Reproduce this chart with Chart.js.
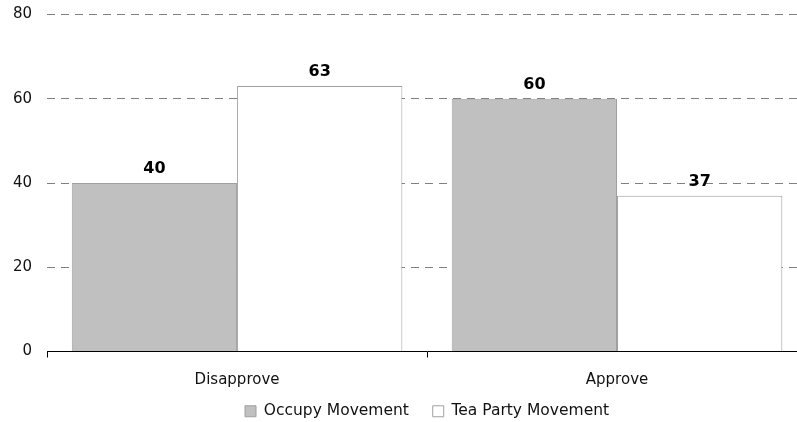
<!DOCTYPE html>
<html>
<head>
<meta charset="utf-8">
<script src="https://cdn.jsdelivr.net/npm/chart.js@4"></script>
<style>
  html, body { margin: 0; padding: 0; background: #fff; }
  #wrap { width: 797px; height: 422px; position: relative; overflow: hidden; }
  #c { position: absolute; left: -2px; top: -8px; }
</style>
</head>
<body>
<div id="wrap"><canvas id="c" width="809" height="437"></canvas></div>
<script>
const categories = ["Disapprove", "Approve"];
const occupyValues = [40, 60];
const teaPartyValues = [63, 37];
const seriesNames = ["Occupy Movement", "Tea Party Movement"];
const yTicks = [0, 20, 40, 60, 80];

const FONT = "'DejaVu Sans', sans-serif";

const valueLabels = {
  id: 'valueLabels',
  afterDatasetsDraw(chart) {
    const ctx = chart.ctx;
    ctx.save();
    ctx.font = "bold 16px " + FONT;
    ctx.fillStyle = "#000";
    ctx.textAlign = "center";
    ctx.textBaseline = "alphabetic";
    chart.data.datasets.forEach((ds, i) => {
      chart.getDatasetMeta(i).data.forEach((bar, j) => {
        ctx.fillText(String(ds.data[j]), bar.x, bar.y - 10);
      });
    });
    ctx.restore();
  }
};

new Chart(document.getElementById('c'), {
  type: 'bar',
  data: {
    labels: categories,
    datasets: [
      { label: seriesNames[0], data: occupyValues, backgroundColor: '#c0c0c0', borderColor: '#a0a0a0', borderWidth: 1 },
      { label: seriesNames[1], data: teaPartyValues, backgroundColor: '#ffffff', borderColor: '#a0a0a0', borderWidth: 1 }
    ]
  },
  options: {
    responsive: false,
    animation: false,
    layout: { padding: 0 },
    categoryPercentage: 0.87,
    barPercentage: 1.0,
    plugins: {
      legend: {
        position: 'bottom',
        fullSize: false,
        labels: {
          font: { family: FONT, size: 15.5 },
          color: '#111',
          boxWidth: 11,
          boxHeight: 11,
          padding: 14,
          generateLabels: (chart) => {
            const items = Chart.defaults.plugins.legend.labels.generateLabels(chart);
            items.forEach((it, i) => { if (i === 0) it.text = it.text + '  '; });
            return items;
          }
        }
      },
      tooltip: { enabled: false }
    },
    scales: {
      x: {
        grid: { drawOnChartArea: false, drawTicks: true, tickLength: 6, color: '#000', offset: true },
        border: { display: true, color: '#000', width: 1 },
        ticks: { font: { family: FONT, size: 15 }, color: '#111', padding: 14 },
        afterFit: (scale) => { scale.height = 38; }
      },
      y: {
        min: 0, max: 80,
        afterBuildTicks: (scale) => { scale.ticks = yTicks.map(v => ({ value: v })); },
        grid: {
          drawTicks: false,
          color: (c) => (c.tick && c.tick.value === 0) ? 'rgba(0,0,0,0)' : '#808080',
          lineWidth: 1
        },
        border: { display: false, dash: [8, 6] },
        ticks: { font: { family: FONT, size: 15, lineHeight: 1 }, color: '#111', padding: 15 }
      }
    }
  },
  plugins: [valueLabels]
});
</script>
</body>
</html>
